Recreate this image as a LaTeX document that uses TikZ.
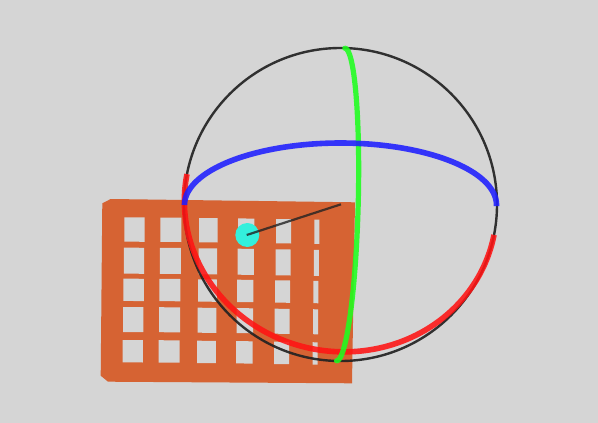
\documentclass[tikz,border=0pt]{standalone}
\definecolor{bg}{HTML}{D5D5D5}
\definecolor{plate}{HTML}{D66333}
\definecolor{redarc}{HTML}{FF1414}
\definecolor{bluearc}{HTML}{1E1EFF}
\definecolor{greenarc}{HTML}{1EFF1E}
\definecolor{ball}{HTML}{33F0DC}
\definecolor{ink}{HTML}{222222}
\tikzset{
  holeshape/.style={fill=bg,draw=none},
  arcline/.style={line width=5.6pt,opacity=.88,line join=round},
  sphereline/.style={draw=ink,line width=2.4pt,opacity=.92},
}
\begin{document}
\begin{tikzpicture}[x=1pt,y=-1pt]
\useasboundingbox (0,0) rectangle (598,423);
\fill[bg] (0,0) rectangle (598,423);
% plate
\fill[plate] (102.3,203.3) -- (110.7,199) -- (355,202.3) -- (352,383.3) -- (108,381.7) -- (100.7,375.7) -- cycle;
% holes: column x range and top, then row offset, height and shift
\foreach \xa/\xb/\ya in {
 124.3/144.7/217.3,
 160.3/181.3/217.5,
 199/217.7/218,
 238/254.3/218.4,
 276/291/219,
 314.3/319.3/219.5}{
  \foreach \ra/\rh/\sh in {0/24.3/0,30.3/26/-.5,61.3/22.3/-.9,89.7/25/-1.3,122.7/22.3/-1.8}{
    \path[holeshape] (\xa+\sh,\ya+\ra) -- (\xb+\sh,\ya+\ra+.2) -- (\xb+\sh,\ya+\ra+\rh+.2) -- (\xa+\sh,\ya+\ra+\rh) -- cycle;
  }
}
% sphere outline
\draw[sphereline] (340.5,204.5) circle [radius=156.5];
% ball and rod
\fill[ball] (247.3,235) circle [radius=12];
\draw[draw=ink,line width=2.2pt,opacity=.8] (246.7,235) -- (341,204.3);
% red great circle: half ellipse, tilted by 11.2 degrees
\draw[redarc,arcline] plot[domain=0:180,samples=90,smooth] ({340.5+156.5*cos(\x)*cos(11.2)-147*sin(\x)*sin(11.2)},{204.5+156.5*cos(\x)*sin(11.2)+147*sin(\x)*cos(11.2)});
% green great circle: half ellipse
\draw[greenarc,arcline,line width=5.2pt,line cap=round] plot[domain=0:180,samples=90,smooth] ({340.7+156.3*cos(\x)*0.0265+17.5*sin(\x)*0.9996},{204.5-156.3*cos(\x)*0.9996+17.5*sin(\x)*0.0265});
% blue great circle: half ellipse
\draw[bluearc,arcline] plot[domain=180:361,samples=90,smooth] ({340.5+156*cos(\x)},{205+62*sin(\x)});
\end{tikzpicture}
\end{document}
